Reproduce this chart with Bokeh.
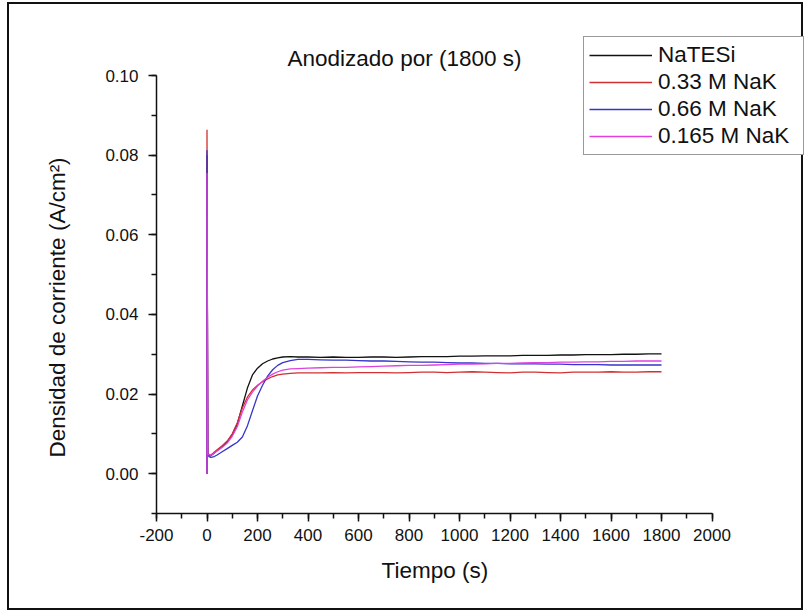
from bokeh.plotting import figure
from bokeh.models import (Legend, LegendItem, SingleIntervalTicker, PrintfTickFormatter,
                          NumeralTickFormatter, Range1d, Label, Title)
from bokeh.embed import file_html
from bokeh.resources import INLINE

# ---- data ----
t = [0, 0, 3, 8, 15, 25, 40, 60, 80, 100, 120, 140, 160, 180, 200, 220, 240, 260, 280,
     300, 330, 360, 400, 450, 500, 550, 600, 650, 700, 750, 800, 850, 900, 950, 1000,
     1050, 1100, 1150, 1200, 1250, 1300, 1350, 1400, 1450, 1500, 1550, 1600, 1650,
     1700, 1750, 1800]

natesi = [0.0, 0.0800, 0.0050, 0.0046, 0.0045, 0.0050, 0.0058, 0.0068, 0.0080, 0.0098,
          0.0125, 0.0170, 0.0215, 0.0248, 0.0265, 0.0276, 0.0283, 0.0288, 0.0291,
          0.0293, 0.0294, 0.0293, 0.0293, 0.0292, 0.0293, 0.0292, 0.0292, 0.0293, 0.0293,
          0.0292, 0.0293, 0.0294, 0.0294, 0.0294, 0.0295, 0.0295, 0.0296, 0.0296, 0.0296,
          0.0297, 0.0297, 0.0297, 0.0298, 0.0298, 0.0299, 0.0299, 0.0299, 0.0300, 0.0300,
          0.0301, 0.0301]

nak_033 = [0.0, 0.0864, 0.0052, 0.0048, 0.0047, 0.0052, 0.0060, 0.0070, 0.0082, 0.0100,
           0.0128, 0.0165, 0.0192, 0.0210, 0.0222, 0.0231, 0.0238, 0.0244, 0.0248,
           0.0250, 0.0252, 0.0253, 0.0253, 0.0253, 0.0254, 0.0253, 0.0254, 0.0254, 0.0254,
           0.0253, 0.0254, 0.0255, 0.0255, 0.0254, 0.0255, 0.0256, 0.0255, 0.0254, 0.0253,
           0.0255, 0.0255, 0.0254, 0.0253, 0.0255, 0.0255, 0.0255, 0.0256, 0.0255, 0.0255,
           0.0256, 0.0256]

nak_066 = [0.0, 0.0812, 0.0048, 0.0043, 0.0041, 0.0042, 0.0047, 0.0055, 0.0063, 0.0071,
           0.0079, 0.0092, 0.0120, 0.0158, 0.0195, 0.0222, 0.0245, 0.0261, 0.0272,
           0.0279, 0.0284, 0.0287, 0.0287, 0.0286, 0.0285, 0.0285, 0.0284, 0.0283, 0.0283,
           0.0282, 0.0281, 0.0280, 0.0280, 0.0279, 0.0278, 0.0278, 0.0277, 0.0277, 0.0276,
           0.0276, 0.0276, 0.0275, 0.0275, 0.0274, 0.0274, 0.0274, 0.0273, 0.0273, 0.0273,
           0.0273, 0.0273]

nak_0165 = [0.0, 0.0755, 0.0050, 0.0047, 0.0046, 0.0050, 0.0057, 0.0066, 0.0077, 0.0094,
            0.0118, 0.0155, 0.0185, 0.0205, 0.0220, 0.0232, 0.0242, 0.0250, 0.0256,
            0.0260, 0.0263, 0.0264, 0.0265, 0.0266, 0.0267, 0.0267, 0.0268, 0.0269, 0.0270,
            0.0271, 0.0272, 0.0272, 0.0273, 0.0274, 0.0275, 0.0275, 0.0276, 0.0277, 0.0277,
            0.0278, 0.0279, 0.0279, 0.0280, 0.0280, 0.0281, 0.0281, 0.0282, 0.0282, 0.0283,
            0.0283, 0.0283]

labels = ["NaTESi", "0.33 M NaK", "0.66 M NaK", "0.165 M NaK"]
series = [natesi, nak_033, nak_066, nak_0165]
colors = ["#111111", "#d03030", "#3535c8", "#e040e0"]
title_text = "Anodizado por (1800 s)"
x_title = "Tiempo (s)"
y_title = "Densidad de corriente (A/cm\u00b2)"

x_min, x_max = -200, 2000
y_min, y_max = -0.01, 0.10

FONT = "Liberation Sans"
BIG = "22.5px"

# layout (pixels inside the bordered canvas)
W, H = 796, 608
left, bottom, top = 147, 99, 32
axis_len_x = 555.5          # pixels from -200 to 2000
axis_len_y = 438.0          # pixels from -0.01 to 0.10
frame_w = W - left
frame_h = H - top - bottom
x_end = x_min + (x_max - x_min) * frame_w / axis_len_x
y_end = y_min + (y_max - y_min) * frame_h / axis_len_y

p = figure(width=W, height=H, output_backend="svg", toolbar_location=None,
           x_range=Range1d(x_min, x_end), y_range=Range1d(y_min, y_end),
           min_border_left=left, min_border_right=0, min_border_top=top,
           min_border_bottom=bottom)
p.styles = {"margin-left": "7px", "margin-top": "2px", "border": "2px solid #111"}

p.xgrid.visible = False
p.ygrid.visible = False
p.outline_line_color = None
p.background_fill_color = "white"
p.border_fill_color = "white"

xa = p.xaxis[0]
ya = p.yaxis[0]
xa.bounds = (x_min, x_max)
ya.bounds = (y_min, y_max)
xa.ticker = SingleIntervalTicker(interval=200, num_minor_ticks=2)
ya.ticker = SingleIntervalTicker(interval=0.02, num_minor_ticks=2)
xa.formatter = NumeralTickFormatter(format="0")
ya.formatter = PrintfTickFormatter(format="%.2f")
for ax in (xa, ya):
    ax.axis_line_width = 1.5
    ax.axis_line_color = "#111"
    ax.major_tick_line_width = 1.5
    ax.minor_tick_line_width = 1.5
    ax.major_tick_line_color = "#111"
    ax.minor_tick_line_color = "#111"
    ax.major_tick_in = 0
    ax.major_tick_out = 8
    ax.minor_tick_in = 0
    ax.minor_tick_out = 5
    ax.major_label_text_font = FONT
    ax.major_label_text_font_size = "17px"
    ax.major_label_text_color = "#111"
xa.major_label_standoff = 7
ya.major_label_standoff = 10

# axis titles as side-panel titles (left-aligned with an offset, so that they sit
# where the reference has them rather than centred on the enlarged frame)
xt = Title(text=x_title, align="left", offset=225,
           text_font=FONT, text_font_size=BIG, text_font_style="normal",
           text_color="#111", standoff=24)
p.add_layout(xt, "below")
yt = Title(text=y_title, align="left", offset=56,
           text_font=FONT, text_font_size=BIG, text_font_style="normal",
           text_color="#111", standoff=66)
p.add_layout(yt, "left")

renderers = []
for vals, c in zip(series, colors):
    r = p.line(t, vals, line_color=c, line_width=1.3)
    renderers.append(r)

# chart title, drawn inside the (enlarged) frame
p.add_layout(Label(x=248, y=axis_len_y + 17, x_units="screen", y_units="screen",
                   text=title_text, text_align="center", text_baseline="middle",
                   text_font=FONT, text_font_size=BIG, text_color="#111"))

legend = Legend(items=[LegendItem(label=l, renderers=[r]) for l, r in zip(labels, renderers)],
                location=(427, 358))
legend.border_line_color = "#333"
legend.border_line_width = 1
legend.background_fill_color = "white"
legend.background_fill_alpha = 1.0
legend.label_text_font = FONT
legend.label_text_font_size = BIG
legend.label_text_color = "#111"
legend.glyph_width = 63
legend.glyph_height = 26
legend.label_height = 26
legend.label_width = 140
legend.label_standoff = 6
legend.padding = 5
legend.spacing = 1
legend.margin = 0
p.add_layout(legend)

open("out.html", "w").write(file_html(p, INLINE))
